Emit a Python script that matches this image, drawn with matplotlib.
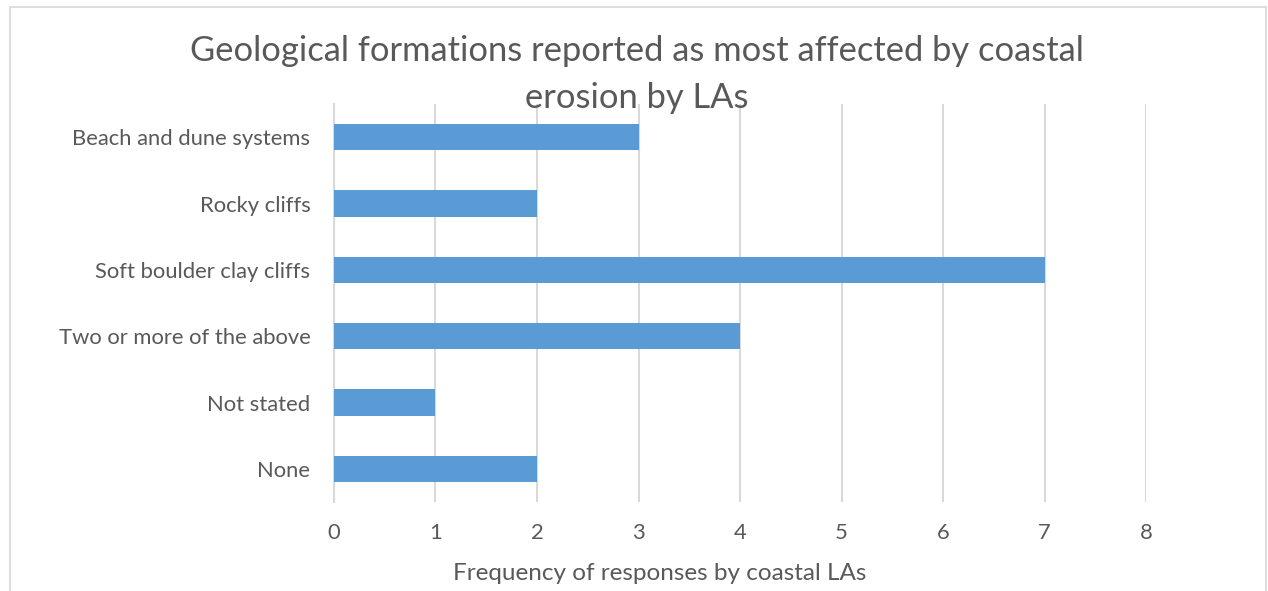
import matplotlib.pyplot as plt
from matplotlib.patches import Rectangle

categories = ['Beach and dune systems', 'Rocky cliffs', 'Soft boulder clay cliffs',
              'Two or more of the above', 'Not stated', 'None']
counts = [3, 2, 7, 4, 1, 2]
x_ticks = [0, 1, 2, 3, 4, 5, 6, 7, 8]

plt.rcParams['font.family'] = ['Lato', 'DejaVu Sans']
text_color = '#595959'
grid_color = '#d9d9d9'

fig = plt.figure(figsize=(12.68, 5.91), dpi=100)
ax = fig.add_axes([0.2634, 0.1506, 0.6404, 0.6734])

pos = list(range(len(categories)))
ax.barh(pos, counts, height=0.4, color='#5b9bd5', zorder=3)
ax.set_ylim(len(categories) - 0.5, -0.5)
ax.set_yticks(pos)
ax.set_yticklabels(categories)
ax.set_xlim(0, 8)
ax.set_xticks(x_ticks)

ax.grid(axis='x', color=grid_color, linewidth=1.5, zorder=0)
for s in ['top', 'right', 'bottom']:
    ax.spines[s].set_visible(False)
ax.spines['left'].set_color(grid_color)
ax.spines['left'].set_linewidth(1.5)
ax.tick_params(axis='both', length=0, labelsize=15.8, colors=text_color)
ax.tick_params(axis='y', pad=17)
ax.tick_params(axis='x', pad=15)

fig.text(0.502, 0.94, 'Geological formations reported as most affected by coastal\nerosion by LAs',
         ha='center', va='top', fontsize=24.8, color=text_color, linespacing=1.55)
fig.text(660 / 1268, 1 - 574 / 591, 'Frequency of responses by coastal LAs',
         ha='center', va='center', fontsize=17.5, color=text_color)

# outer chart border
fig.patches.append(Rectangle((10 / 1268, -0.05), 1256 / 1268, 1 - 7 / 591 + 0.05,
                             transform=fig.transFigure, fill=False,
                             edgecolor=grid_color, linewidth=1.2))

fig.savefig('out.png', dpi=100)
